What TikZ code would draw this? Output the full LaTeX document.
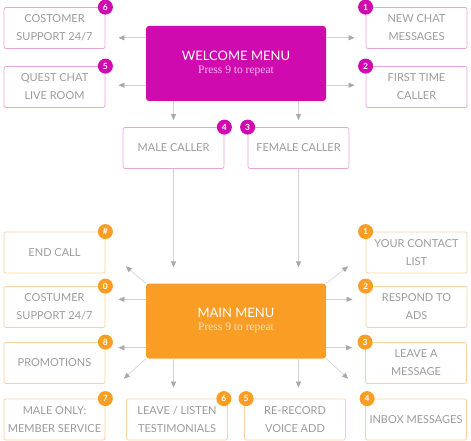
\documentclass[tikz,border=0pt]{standalone}
\usepackage{fontspec}
\setmainfont{Lato}
\newfontfamily\pressfont{Liberation Serif}
\usepackage{tikz}
\usetikzlibrary{arrows.meta,calc}
\definecolor{menuMagenta}{HTML}{CF0BB0}
\definecolor{menuOrange}{HTML}{F99D25}
\definecolor{edgeMagenta}{HTML}{E9A3DD}
\definecolor{edgeOrange}{HTML}{F8D3A2}
\definecolor{pressMagenta}{HTML}{F5BBEB}
\definecolor{pressOrange}{HTML}{FDE0B6}
\definecolor{optGray}{HTML}{9C9C9C}
\definecolor{lineGray}{HTML}{D4D4D4}
\definecolor{tipGray}{HTML}{A9A9A9}

\begin{document}
\begin{tikzpicture}[
  x=1pt, y=-1pt,
  option/.style={rectangle, rounded corners=2pt, draw=#1, line width=0.8pt, fill=white,
    minimum width=101pt, minimum height=41pt, align=center, text=optGray,
    font=\fontsize{11}{18}\selectfont, inner sep=1pt},
  menu/.style={rectangle, rounded corners=3pt, fill=#1, minimum width=180pt,
    minimum height=75pt, align=center, text=white, font=\fontsize{13}{13}\selectfont},
  badge/.style={circle, fill=#1, text=white, minimum size=15pt, inner sep=0pt,
    font=\fontsize{8.5}{9}\selectfont\bfseries},
  arrow/.style={-{Triangle[length=6pt,width=5pt,color=tipGray]}, lineGray, line width=0.7pt},
]
\useasboundingbox (0,0) rectangle (471,441);

% Welcome menu and its options
\node[menu=menuMagenta] (welcome) at (236,63.5)
  {WELCOME MENU\\{\pressfont\fontsize{11.5}{12}\selectfont\color{pressMagenta}Press 9 to repeat}};
\node[option=edgeMagenta] (cust6) at (54.5,28) {COSTOMER\\SUPPORT 24/7};
\node[option=edgeMagenta] (quest5) at (54.5,87) {QUEST CHAT\\LIVE ROOM};
\node[option=edgeMagenta] (newchat1) at (416.5,28) {NEW CHAT\\MESSAGES};
\node[option=edgeMagenta] (first2) at (416.5,87) {FIRST TIME\\CALLER};
\node[option=edgeMagenta] (male4) at (173.5,148) {MALE CALLER};
\node[option=edgeMagenta] (female3) at (298.5,148) {FEMALE CALLER};

% Main menu and its options
\node[menu=menuOrange] (main) at (236,321)
  {MAIN MENU\\{\pressfont\fontsize{11.5}{12}\selectfont\color{pressOrange}Press 9 to repeat}};
\node[option=edgeOrange] (endcall) at (54.5,252.5) {END CALL};
\node[option=edgeOrange] (cust0) at (54.5,307) {COSTUMER\\SUPPORT 24/7};
\node[option=edgeOrange] (promo8) at (54.5,363) {PROMOTIONS};
\node[option=edgeOrange] (maleonly7) at (54.5,419.5) {MALE ONLY:\\MEMBER SERVICE};
\node[option=edgeOrange] (testi6) at (177,419.5) {LEAVE / LISTEN\\TESTIMONIALS};
\node[option=edgeOrange] (rerec5) at (295,419.5) {RE-RECORD\\VOICE ADD};
\node[option=edgeOrange] (inbox4) at (416,419.5) {INBOX MESSAGES};
\node[option=edgeOrange] (leave3) at (416,363) {LEAVE A\\MESSAGE};
\node[option=edgeOrange] (respond2) at (416.5,307) {RESPOND TO\\ADS};
\node[option=edgeOrange] (contact1) at (416.5,252.5) {YOUR CONTACT\\LIST};

% Number badges
\node[badge=menuMagenta] (b-cust6) at (cust6.north east) {6};
\node[badge=menuMagenta] (b-quest5) at (quest5.north east) {5};
\node[badge=menuMagenta] (b-newchat1) at (newchat1.north west) {1};
\node[badge=menuMagenta] (b-first2) at (first2.north west) {2};
\node[badge=menuMagenta] (b-male4) at (male4.north east) {4};
\node[badge=menuMagenta] (b-female3) at (female3.north west) {3};
\node[badge=menuOrange] (b-endcall) at (endcall.north east) {\#};
\node[badge=menuOrange] (b-cust0) at (cust0.north east) {0};
\node[badge=menuOrange] (b-promo8) at (promo8.north east) {8};
\node[badge=menuOrange] (b-maleonly7) at (maleonly7.north east) {7};
\node[badge=menuOrange] (b-testi6) at ([xshift=-4pt]testi6.north east) {6};
\node[badge=menuOrange] (b-rerec5) at ([xshift=2pt]rerec5.north west) {5};
\node[badge=menuOrange] (b-inbox4) at ([xshift=2pt]inbox4.north west) {4};
\node[badge=menuOrange] (b-leave3) at (leave3.north west) {3};
\node[badge=menuOrange] (b-respond2) at (respond2.north west) {2};
\node[badge=menuOrange] (b-contact1) at (contact1.north west) {1};

% Rows and free arrow ends
\coordinate (welcome-up) at ([yshift=-12pt]welcome.north west);
\coordinate (welcome-low) at ([yshift=16pt]welcome.south west);
\coordinate (main-up) at ([yshift=-16pt]main.north west);
\coordinate (main-low) at ([yshift=11pt]main.south west);
\coordinate (tip-nw) at ($(main.north west)+(-20,-17)$);
\coordinate (tip-ne) at ($(main.north east)+(22,-17)$);
\coordinate (tip-sw) at ($(main.south west)+(-22,20)$);
\coordinate (tip-se) at ($(main.south east)+(22,20)$);

% Welcome menu arrows
\draw[arrow, shorten >=13pt] (welcome-up) -- (welcome-up -| cust6.east);
\draw[arrow, shorten >=13pt] (welcome-low) -- (welcome-low -| quest5.east);
\draw[arrow, shorten >=11pt] (welcome-up -| welcome.east) -- (welcome-up -| newchat1.west);
\draw[arrow, shorten >=11pt] (welcome-low -| welcome.east) -- (welcome-low -| first2.west);
\draw[arrow, shorten >=7pt] (welcome.south -| male4) -- (male4.north);
\draw[arrow, shorten >=7pt] (welcome.south -| female3) -- (female3.north);
\draw[arrow, shorten >=16pt] (male4.south) -- (main.north -| male4);
\draw[arrow, shorten >=16pt] (female3.south) -- (main.north -| female3);

% Main menu arrows
\draw[arrow] (main.north west) -- (tip-nw);
\draw[arrow] (main.north east) -- (tip-ne);
\draw[arrow] (main.south west) -- (tip-sw);
\draw[arrow] (main.south east) -- (tip-se);
\draw[arrow, shorten >=13pt] (main-up) -- (main-up -| cust0.east);
\draw[arrow, shorten >=13pt] (main-low) -- (main-low -| promo8.east);
\draw[arrow, shorten >=13pt] (main-up -| main.east) -- (main-up -| respond2.west);
\draw[arrow, shorten >=13pt] (main-low -| main.east) -- (main-low -| leave3.west);
\draw[arrow, shorten >=11pt] (main.south -| male4) -- (testi6.north -| male4);
\draw[arrow, shorten >=11pt] (main.south -| female3) -- (rerec5.north -| female3);
\end{tikzpicture}
\end{document}
